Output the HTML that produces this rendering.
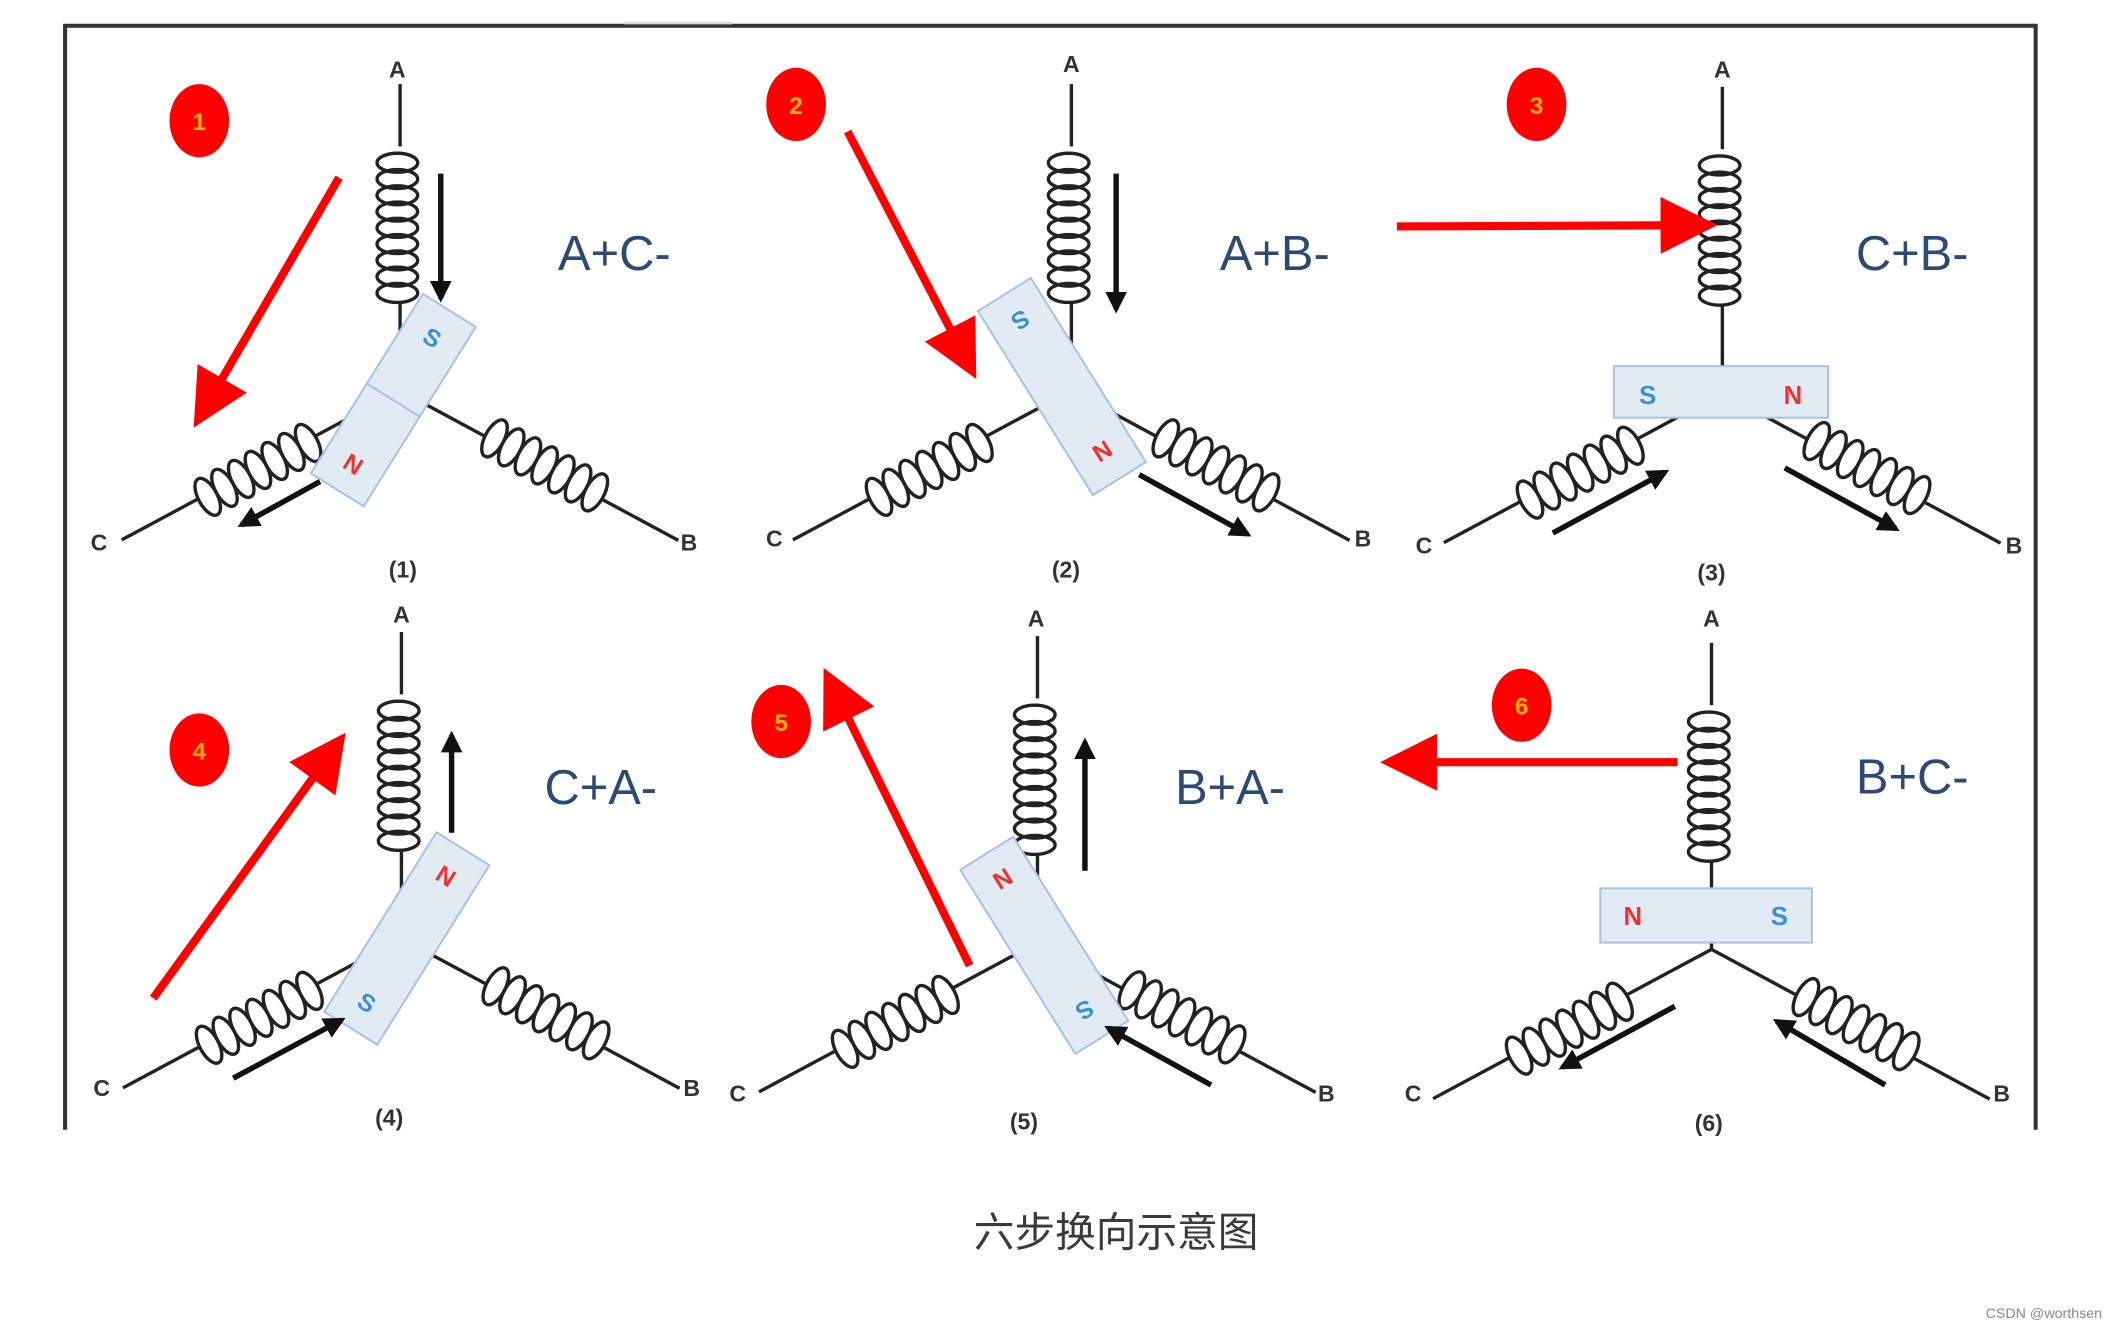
<!DOCTYPE html>
<html><head><meta charset="utf-8"><style>
html,body{margin:0;padding:0;background:#fff;}
svg{display:block;}
text{font-family:"Liberation Sans","Noto Sans CJK SC",sans-serif;}
</style></head><body>
<svg width="2117" height="1323" viewBox="0 0 1561 975.5" preserveAspectRatio="none" xmlns="http://www.w3.org/2000/svg">
<defs>
<marker id="bk" viewBox="0 0 10 10" refX="8" refY="5" markerWidth="4" markerHeight="4" orient="auto" markerUnits="strokeWidth"><path d="M0,0 L10,5 L0,10 z" fill="#111"/></marker>
<marker id="rd" viewBox="0 0 10 10" refX="8" refY="5" markerWidth="7" markerHeight="7" orient="auto" markerUnits="strokeWidth"><path d="M0,0 L10,5 L0,10 z" fill="#f00"/></marker>
<g id="coilh" fill="none" stroke="#222" stroke-width="2.5">
<ellipse cx="78" cy="-2" rx="7" ry="15"/><ellipse cx="92" cy="-2" rx="7" ry="15"/><ellipse cx="106" cy="-2" rx="7" ry="15"/><ellipse cx="120" cy="-2" rx="7" ry="15"/><ellipse cx="134" cy="-2" rx="7" ry="15"/><ellipse cx="148" cy="-2" rx="7" ry="15"/><ellipse cx="162" cy="-2" rx="7" ry="15"/>
<line x1="0" y1="0" x2="71" y2="0"/><line x1="169" y1="0" x2="233" y2="0"/>
</g>
<g id="star" fill="none" stroke="#222" stroke-width="2.5">
<line x1="0" y1="-226" x2="0" y2="-180"/>
<ellipse cx="-2" cy="-168" rx="15" ry="7"/><ellipse cx="-2" cy="-156" rx="15" ry="7"/><ellipse cx="-2" cy="-144" rx="15" ry="7"/><ellipse cx="-2" cy="-132" rx="15" ry="7"/><ellipse cx="-2" cy="-120" rx="15" ry="7"/><ellipse cx="-2" cy="-108" rx="15" ry="7"/><ellipse cx="-2" cy="-96" rx="15" ry="7"/><ellipse cx="-2" cy="-84" rx="15" ry="7"/><ellipse cx="-2" cy="-72" rx="15" ry="7"/>
<line x1="0" y1="-64" x2="0" y2="0"/>
<use href="#coilh" transform="rotate(151.8)"/>
<use href="#coilh" transform="rotate(28.3)"/>
</g>
</defs>
<rect x="0" y="0" width="1561" height="975.5" fill="#fff"/>
<path d="M48,833 L48,19 L1501,19 L1501,833" fill="none" stroke="#333" stroke-width="3"/>
<line x1="460" y1="17" x2="540" y2="17" stroke="#ddd" stroke-width="2"/>

<use href="#star" x="295" y="288"/>
<use href="#star" x="790" y="288"/>
<use href="#star" x="1270" y="290"/>
<use href="#star" x="296" y="692"/>
<use href="#star" x="765" y="695"/>
<use href="#star" x="1262" y="700"/>

<g font-size="17" font-weight="bold" fill="#333" text-anchor="middle">
<text x="293" y="57">A</text><text x="73" y="406">C</text><text x="508" y="406">B</text><text x="297" y="426">(1)</text>
<text x="790" y="53">A</text><text x="571" y="403">C</text><text x="1005" y="403">B</text><text x="786" y="426">(2)</text>
<text x="1270" y="57">A</text><text x="1050" y="408">C</text><text x="1485" y="408">B</text><text x="1262" y="428">(3)</text>
<text x="296" y="459">A</text><text x="75" y="808">C</text><text x="510" y="808">B</text><text x="287" y="830">(4)</text>
<text x="764" y="462">A</text><text x="544" y="812">C</text><text x="978" y="812">B</text><text x="755" y="833">(5)</text>
<text x="1262" y="462">A</text><text x="1042" y="812">C</text><text x="1476" y="812">B</text><text x="1260" y="834">(6)</text>
</g>

<g fill="#e2ebf4" stroke="#a9c2e2" stroke-width="1.5">
<g transform="translate(290,295) rotate(-58)"><rect x="-78" y="-23" width="156" height="46"/><line x1="0" y1="-23" x2="0" y2="23"/>
<text x="55" y="7" font-size="18" font-weight="bold" fill="#3a90d4" stroke="none" text-anchor="middle" transform="rotate(90 55 0)">S</text>
<text x="-55" y="7" font-size="18" font-weight="bold" fill="#f03030" stroke="none" text-anchor="middle" transform="rotate(90 -55 0)">N</text></g>
<g transform="translate(783,285) rotate(58)"><rect x="-80" y="-23" width="160" height="46"/>
<text x="-57" y="7" font-size="18" font-weight="bold" fill="#3a90d4" stroke="none" text-anchor="middle" transform="rotate(90 -57 0)">S</text>
<text x="57" y="7" font-size="18" font-weight="bold" fill="#f03030" stroke="none" text-anchor="middle" transform="rotate(90 57 0)">N</text></g>
<rect x="1190" y="270" width="158" height="38"/>
<g transform="translate(300,692) rotate(-58)"><rect x="-78" y="-23" width="156" height="46"/>
<text x="55" y="7" font-size="18" font-weight="bold" fill="#f03030" stroke="none" text-anchor="middle" transform="rotate(90 55 0)">N</text>
<text x="-55" y="7" font-size="18" font-weight="bold" fill="#3a90d4" stroke="none" text-anchor="middle" transform="rotate(90 -55 0)">S</text></g>
<g transform="translate(770,697) rotate(58)"><rect x="-80" y="-23" width="160" height="46"/>
<text x="-57" y="7" font-size="18" font-weight="bold" fill="#f03030" stroke="none" text-anchor="middle" transform="rotate(90 -57 0)">N</text>
<text x="57" y="7" font-size="18" font-weight="bold" fill="#3a90d4" stroke="none" text-anchor="middle" transform="rotate(90 57 0)">S</text></g>
<rect x="1180" y="655" width="156" height="40"/>
</g>
<g font-size="19" font-weight="bold" text-anchor="middle">
<text x="1215" y="298" fill="#3a90d4">S</text><text x="1322" y="298" fill="#f03030">N</text>
<text x="1204" y="682" fill="#f03030">N</text><text x="1312" y="682" fill="#3a90d4">S</text>
</g>

<g stroke="#111" stroke-width="4" marker-end="url(#bk)">
<line x1="325" y1="128" x2="325" y2="220"/><line x1="236" y1="355" x2="178" y2="387"/>
<line x1="823" y1="128" x2="823" y2="228"/><line x1="840" y1="350" x2="920" y2="394"/>
<line x1="1145" y1="393" x2="1228" y2="348"/><line x1="1316" y1="345" x2="1398" y2="390"/>
<line x1="333" y1="614" x2="333" y2="542"/><line x1="172" y1="795" x2="252" y2="752"/>
<line x1="800" y1="642" x2="800" y2="547"/><line x1="893" y1="800" x2="817" y2="758"/>
<line x1="1235" y1="742" x2="1152" y2="787"/><line x1="1390" y1="800" x2="1310" y2="753"/>
</g>

<g stroke="#f00" stroke-width="6" marker-end="url(#rd)">
<line x1="250" y1="131" x2="147" y2="308"/>
<line x1="625" y1="97" x2="716" y2="272"/>
<line x1="1030" y1="167" x2="1258" y2="166"/>
<line x1="113" y1="736" x2="250" y2="547"/>
<line x1="715" y1="712" x2="611" y2="500"/>
<line x1="1237" y1="562" x2="1026" y2="562"/>
</g>

<g fill="#f00">
<ellipse cx="147" cy="89" rx="22" ry="27"/><ellipse cx="587" cy="77" rx="22" ry="27"/><ellipse cx="1133" cy="77" rx="22" ry="27"/>
<ellipse cx="147" cy="553" rx="22" ry="27"/><ellipse cx="576" cy="532" rx="22" ry="27"/><ellipse cx="1122" cy="520" rx="22" ry="27"/>
</g>
<g font-size="18" font-weight="bold" fill="#ffb000" text-anchor="middle">
<text x="147" y="96">1</text><text x="587" y="84">2</text><text x="1133" y="84">3</text>
<text x="147" y="560">4</text><text x="576" y="539">5</text><text x="1122" y="527">6</text>
</g>

<g font-size="36" fill="#2d4a75" text-anchor="middle">
<text x="453" y="199">A+C-</text><text x="940" y="199">A+B-</text><text x="1410" y="199">C+B-</text>
<text x="443" y="593">C+A-</text><text x="907" y="593">B+A-</text><text x="1410" y="585">B+C-</text>
</g>

<text x="823" y="919" font-size="30" fill="#3a3a3a" text-anchor="middle">六步换向示意图</text>
<text x="1550" y="972" font-size="10.5" fill="#888" text-anchor="end">CSDN @worthsen</text>
</svg>
</body></html>
